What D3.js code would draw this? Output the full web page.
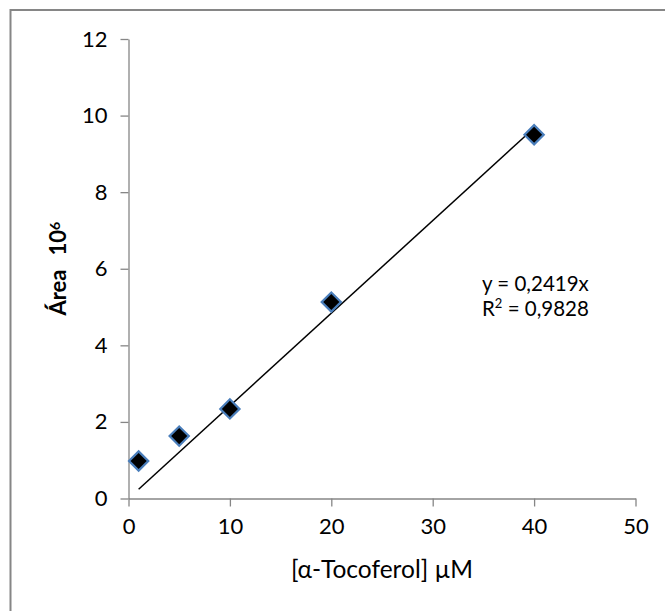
<!DOCTYPE html>
<html>
<head>
<meta charset="utf-8">
<script src="https://cdn.jsdelivr.net/npm/d3@7"></script>
<style>
  html, body { margin: 0; padding: 0; background: #fff; }
  svg { display: block; }
  text { font-family: Lato, "Open Sans", sans-serif; fill: #000; }
</style>
</head>
<body>
<svg id="chart" width="665" height="611"></svg>
<script>
// Calibration data: α-tocopherol concentration (µM) vs peak area (×10^6)
const concentrations = [1, 5, 10, 20, 40];
const areas = [0.98, 1.63, 2.34, 5.13, 9.50];

// Linear fit through the origin
const slope = 0.2419;
const rSquared = 0.9828;

const xTicks = [0, 10, 20, 30, 40, 50];
const yTicks = [0, 2, 4, 6, 8, 10, 12];

const svg = d3.select("#chart");
const axisColor = "#868686";

// outer chart frame
svg.append("rect")
  .attr("x", 10.5).attr("y", 10)
  .attr("width", 700).attr("height", 700)
  .attr("fill", "none")
  .attr("stroke", axisColor)
  .attr("stroke-width", 2);

const x = d3.scaleLinear().domain([0, 50]).range([128.5, 635.5]);
const y = d3.scaleLinear().domain([0, 12]).range([498.5, 39]);

// x axis
const gx = svg.append("g").attr("transform", `translate(0,${y(0)})`)
  .call(d3.axisBottom(x).tickValues(xTicks).tickSize(8).tickPadding(9).tickSizeOuter(0));
// y axis
const gy = svg.append("g").attr("transform", `translate(${x(0)},0)`)
  .call(d3.axisLeft(y).tickValues(yTicks).tickSize(8).tickPadding(13).tickSizeOuter(0));

[gx, gy].forEach(g => {
  g.select(".domain").attr("stroke", axisColor).attr("stroke-width", 1.3);
  g.selectAll(".tick line").attr("stroke", axisColor).attr("stroke-width", 1.3);
  g.selectAll(".tick text").style("font-size", "22px").attr("fill", "#000");
});
gx.selectAll(".tick text").attr("dy", "0.85em");

// axis titles
svg.append("text")
  .attr("x", (x(0) + x(50)) / 2)
  .attr("y", 578)
  .attr("text-anchor", "middle")
  .style("font-size", "24.5px")
  .text("[α-Tocoferol] µM");

const yTitle = svg.append("text")
  .attr("transform", `translate(66,${(y(0) + y(12)) / 2}) rotate(-90)`)
  .attr("text-anchor", "middle")
  .style("font-size", "22px")
  .style("font-weight", "bold");
yTitle.append("tspan").text("Área");
yTitle.append("tspan").attr("dx", 14).text("10");
yTitle.append("tspan").attr("dy", "-0.45em").style("font-size", "14px").text("6");

// trendline from smallest to largest concentration
const xMin = d3.min(concentrations), xMax = d3.max(concentrations);
svg.append("line")
  .attr("x1", x(xMin)).attr("y1", y(slope * xMin))
  .attr("x2", x(xMax)).attr("y2", y(slope * xMax))
  .attr("stroke", "#000")
  .attr("stroke-width", 1.5);

// data markers: square diamonds
const diamond = d3.symbol().type(d3.symbolSquare).size(185);
svg.append("g").selectAll("path")
  .data(concentrations.map((c, i) => [c, areas[i]]))
  .join("path")
  .attr("d", diamond)
  .attr("transform", d => `translate(${x(d[0])},${y(d[1])}) rotate(45)`)
  .attr("fill", "#000")
  .attr("stroke", "#4a7ebb")
  .attr("stroke-width", 2.2);

// fit equation
const fmt = v => v.toFixed(4).replace(".", ",");
const eqSize = 20.5;
svg.append("text").attr("x", 482).attr("y", 291).style("font-size", `${eqSize}px`)
  .text(`y = ${fmt(slope)}x`);
const r2 = svg.append("text").attr("x", 482).attr("y", 316).style("font-size", `${eqSize}px`);
r2.append("tspan").text("R");
r2.append("tspan").attr("dy", -8).style("font-size", "13px").text("2");
r2.append("tspan").attr("dy", 8).text(` = ${fmt(rSquared)}`);
</script>
</body>
</html>
